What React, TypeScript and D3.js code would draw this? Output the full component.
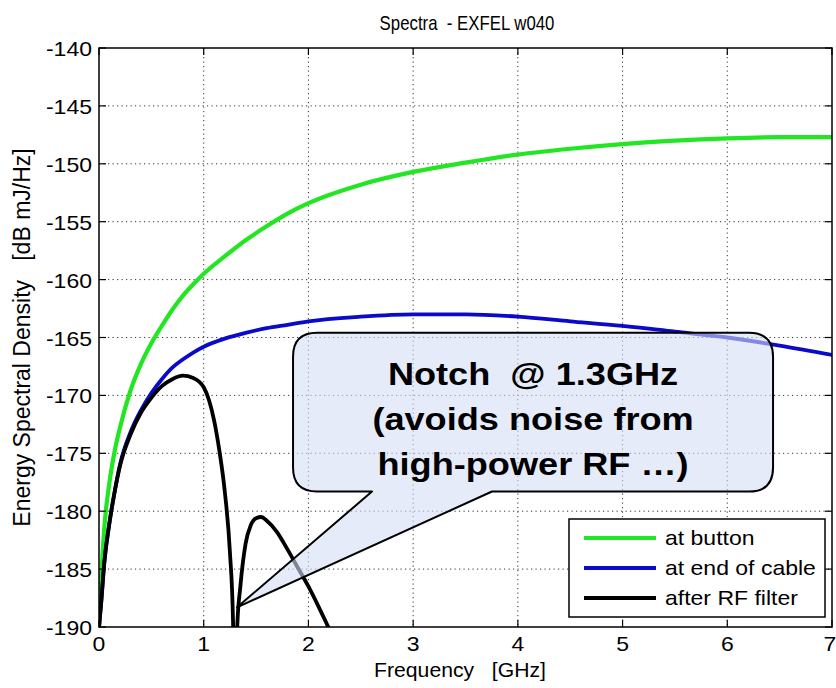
import React from 'react';
import * as d3 from 'd3';

// ---------- data ----------
const xTicks = [0, 1, 2, 3, 4, 5, 6, 7];
const yTicks = [-140, -145, -150, -155, -160, -165, -170, -175, -180, -185, -190];

const freqButton = [0, 0.02, 0.05, 0.1, 0.15, 0.2, 0.3, 0.4, 0.5, 0.6, 0.7, 0.8, 0.9, 1.0, 1.2, 1.4, 1.6, 1.8, 2.0, 2.5, 3.0, 3.5, 4.0, 4.5, 5.0, 5.5, 6.0, 6.5, 7.0];
const esdButton = [-190, -186, -181.5, -177.5, -174.8, -172.8, -169.6, -167.3, -165.5, -164.0, -162.6, -161.4, -160.4, -159.5, -158.0, -156.6, -155.4, -154.3, -153.4, -151.8, -150.7, -149.9, -149.2, -148.7, -148.3, -148.0, -147.8, -147.7, -147.7];

const freqCable = [0, 0.02, 0.05, 0.1, 0.15, 0.2, 0.3, 0.4, 0.5, 0.6, 0.7, 0.8, 0.9, 1.0, 1.2, 1.4, 1.6, 1.8, 2.0, 2.5, 3.0, 3.5, 4.0, 4.5, 5.0, 5.5, 6.0, 6.5, 7.0];
const esdCable = [-190, -188, -184.5, -181, -178.3, -176, -173.2, -171.3, -169.8, -168.6, -167.6, -166.9, -166.3, -165.8, -165.1, -164.6, -164.2, -163.9, -163.6, -163.2, -163.0, -163.0, -163.2, -163.6, -164.0, -164.5, -165.0, -165.7, -166.5];

const freqFilter = [0, 0.02, 0.05, 0.1, 0.15, 0.2, 0.3, 0.4, 0.5, 0.6, 0.7, 0.8, 0.9, 1.0, 1.05, 1.1, 1.15, 1.2, 1.25, 1.28, 1.3, 1.32, 1.35, 1.4, 1.45, 1.5, 1.55, 1.6, 1.7, 1.8, 1.9, 2.0, 2.1, 2.2, 2.3];
const esdFilter = [-190, -188, -184.5, -181, -178.3, -176.1, -173.4, -171.5, -170.2, -169.2, -168.6, -168.3, -168.5, -169.3, -170.4, -172.2, -174.8, -178.2, -183.5, -189.5, -205, -190, -186.5, -182.8, -181.2, -180.6, -180.5, -180.8, -181.8, -183.3, -184.9, -186.5, -188.3, -190.2, -192];

const seriesNames = ['at button', 'at end of cable', 'after RF filter'];
const seriesColors = ['#22e622', '#0a0ac8', '#000000'];

const titleText = 'Spectra  - EXFEL w040';
const xLabel = 'Frequency   [GHz]';
const yLabel = 'Energy Spectral Density   [dB mJ/Hz]';
const calloutLines = ['Notch  @ 1.3GHz', '(avoids noise from', 'high-power RF \u2026)'];
// callout geometry in data units
const calloutBox = { x0: 1.853, x1: 6.437, y0: -164.6, y1: -178.3 };
const calloutTip = { x: 1.318, y: -188.3 };
const calloutBase = [2.607, 3.753];

// ---------- layout ----------
const W = 836, H = 688;
const L = 99, R = 832, T = 48, B = 627;
const FONT = '"Liberation Sans", Arial, Helvetica, sans-serif';
const SX = 1.15;

const x = d3.scaleLinear().domain([0, 7]).range([L, R]);
const y = d3.scaleLinear().domain([-190, -140]).range([B, T]);

const line = d3.line<[number, number]>()
  .x(d => x(d[0]))
  .y(d => y(d[1]))
  .curve(d3.curveMonotoneX);

function ST(props: { x: number; y: number; size: number; anchor?: string; weight?: string; sx?: number; children: any }) {
  const { x: px, y: py, size, anchor = 'start', weight = 'normal', sx = SX, children } = props;
  return (
    <text transform={`translate(${px},${py}) scale(${sx},1)`} fontSize={size} fontFamily={FONT}
      textAnchor={anchor} fontWeight={weight} fill="#000" style={{ whiteSpace: 'pre' }}>{children}</text>
  );
}

function calloutPath(): string {
  const x0 = x(calloutBox.x0), x1 = x(calloutBox.x1), y0 = y(calloutBox.y0), y1 = y(calloutBox.y1);
  const r = 24;
  const b0 = x(calloutBase[0]), b1 = x(calloutBase[1]);
  const tx = x(calloutTip.x), ty = y(calloutTip.y);
  return [
    `M${x0 + r},${y0}`,
    `L${x1 - r},${y0}`,
    `Q${x1},${y0} ${x1},${y0 + r}`,
    `L${x1},${y1 - r}`,
    `Q${x1},${y1} ${x1 - r},${y1}`,
    `L${b1},${y1}`,
    `L${tx},${ty}`,
    `L${b0},${y1}`,
    `L${x0 + r},${y1}`,
    `Q${x0},${y1} ${x0},${y1 - r}`,
    `L${x0},${y0 + r}`,
    `Q${x0},${y0} ${x0 + r},${y0}`,
    'Z',
  ].join(' ');
}

export default function App() {
  const data: [number, number][][] = [
    freqButton.map((f, i) => [f, esdButton[i]]),
    freqCable.map((f, i) => [f, esdCable[i]]),
    freqFilter.map((f, i) => [f, esdFilter[i]]),
  ];
  const tick = 7;
  const cx = (x(calloutBox.x0) + x(calloutBox.x1)) / 2;
  const cy0 = y(calloutBox.y0);
  const lgX0 = 569, lgY0 = 519, lgX1 = 825, lgY1 = 617;
  return (
    <svg width={W} height={H} style={{ position: 'absolute', left: 0, top: 0, background: '#fff' }}>
      <defs>
        <clipPath id="plotclip"><rect x={L} y={T} width={R - L} height={B - T} /></clipPath>
      </defs>
      <rect x={0} y={0} width={W} height={H} fill="#fff" />
      {/* grid */}
      <g stroke="#333" strokeWidth={1} strokeDasharray="1.2,3.3" fill="none">
        {xTicks.slice(1, -1).map(t => <line key={'gx' + t} x1={x(t)} x2={x(t)} y1={T} y2={B} />)}
        {yTicks.slice(1, -1).map(t => <line key={'gy' + t} x1={L} x2={R} y1={y(t)} y2={y(t)} />)}
      </g>
      {/* curves */}
      <g clipPath="url(#plotclip)" fill="none" strokeLinejoin="round" strokeLinecap="round">
        {data.map((d, i) => (
          <path key={i} d={line(d) || ''} stroke={seriesColors[i]} strokeWidth={i === 0 ? 4.2 : 3.8} />
        ))}
      </g>
      {/* ticks */}
      <g stroke="#000" strokeWidth={1.2}>
        {xTicks.map(t => <line key={'tb' + t} x1={x(t)} x2={x(t)} y1={B} y2={B - tick} />)}
        {xTicks.map(t => <line key={'tt' + t} x1={x(t)} x2={x(t)} y1={T} y2={T + tick} />)}
        {yTicks.map(t => <line key={'tl' + t} x1={L} x2={L + tick} y1={y(t)} y2={y(t)} />)}
        {yTicks.map(t => <line key={'tr' + t} x1={R} x2={R - tick} y1={y(t)} y2={y(t)} />)}
      </g>
      <rect x={L} y={T} width={R - L} height={B - T} fill="none" stroke="#000" strokeWidth={1.5} />
      {/* tick labels */}
      {yTicks.map(t => <ST key={'yl' + t} x={92} y={y(t) + 8} size={20} anchor="end">{String(t)}</ST>)}
      {xTicks.map(t => <ST key={'xl' + t} x={t === 7 ? x(t) - 2 : x(t)} y={651} size={20} anchor="middle">{String(t)}</ST>)}
      {/* labels */}
      <ST x={467} y={30} size={20} anchor="middle" sx={0.84}>{titleText}</ST>
      <ST x={460} y={677} size={20} anchor="middle" sx={1.06}>{xLabel}</ST>
      <text transform={`translate(30,${(T + B) / 2}) rotate(-90)`} fontSize={23} fontFamily={FONT} textAnchor="middle" style={{ whiteSpace: 'pre' }}>{yLabel}</text>
      {/* callout */}
      <path d={calloutPath()} fill="#d3ddf3" fillOpacity={0.6} stroke="#000" strokeWidth={2} strokeLinejoin="round" />
      {calloutLines.map((s, i) => (
        <ST key={'c' + i} x={cx} y={cy0 + 52 + i * 45} size={32} weight="bold" anchor="middle" sx={1.13}>{s}</ST>
      ))}
      {/* legend */}
      <rect x={lgX0} y={lgY0} width={lgX1 - lgX0} height={lgY1 - lgY0} fill="#fff" stroke="#000" strokeWidth={1.5} />
      {seriesNames.map((n, i) => {
        const yy = lgY0 + 19 + i * 30;
        return (
          <g key={'lg' + i}>
            <line x1={584} x2={656} y1={yy} y2={yy} stroke={seriesColors[i]} strokeWidth={4} />
            <ST x={665} y={yy + 7} size={20}>{n}</ST>
          </g>
        );
      })}
    </svg>
  );
}
